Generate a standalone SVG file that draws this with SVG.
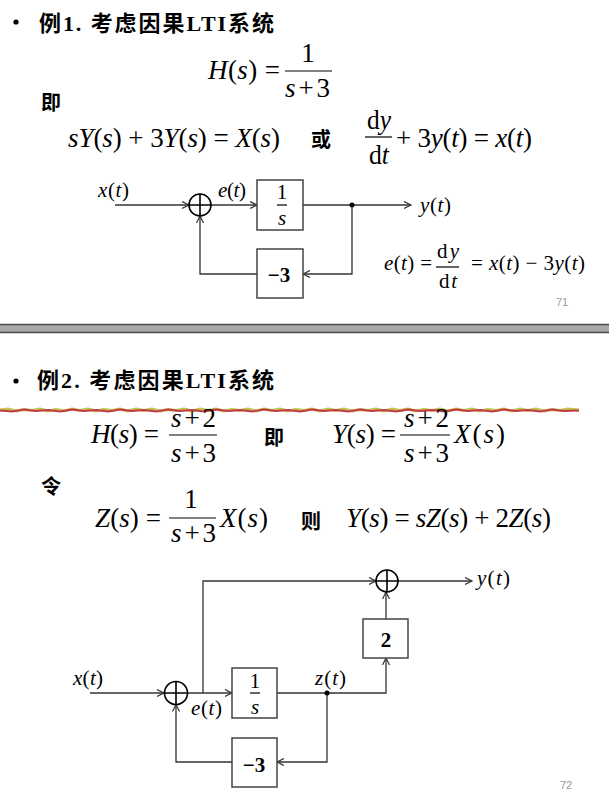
<svg xmlns="http://www.w3.org/2000/svg" width="609" height="807" viewBox="0 0 609 807">
<style>
.m{font-family:"Liberation Serif","Times New Roman",serif;font-size:27px;fill:#000}
.l{font-family:"Liberation Serif","Times New Roman",serif;font-size:21px;fill:#000}
.i{font-style:italic}
.b{font-weight:bold}
.cjk{font-family:"Liberation Serif","Noto Sans CJK SC",sans-serif;font-weight:bold;font-size:22px}
.c{font-family:"Noto Sans CJK SC",sans-serif;font-weight:bold}
.wire{fill:none;stroke:#333;stroke-width:1.3}
.box{fill:#fff;stroke:#444;stroke-width:1.5}
.bar{stroke:#000;stroke-width:1.2}
.sum{fill:#fff;stroke:#000;stroke-width:1.6}
.pn{font-family:"Liberation Sans",Arial,sans-serif;font-size:11px;fill:#999}
</style>
<defs>
<marker id="arr" markerUnits="userSpaceOnUse" markerWidth="10" markerHeight="10" refX="7" refY="4" orient="auto">
<path d="M0,0.5 L7,4 L0,7.5" fill="none" stroke="#333" stroke-width="1.2"/>
</marker>
</defs>
<rect width="609" height="807" fill="#fff"/>

<!-- Slide 1 -->
<g id="title1">
<circle cx="16" cy="22" r="2.6" fill="#000"/>
<text x="39" y="31" class="cjk" textLength="235" lengthAdjust="spacing"><tspan class="c">例</tspan>1. <tspan class="c">考虑因果</tspan>LTI<tspan class="c">系统</tspan></text>
</g>
<g id="eq-H1">
<text x="208" y="79" class="m" textLength="72" lengthAdjust="spacing"><tspan class="i">H</tspan>(<tspan class="i">s</tspan>) =</text>
<line x1="285" y1="71" x2="332" y2="71" class="bar"/>
<text x="308" y="62" class="m" text-anchor="middle">1</text>
<text x="285" y="97" class="m" textLength="45" lengthAdjust="spacing"><tspan class="i">s</tspan>+3</text>
</g>
<text x="41" y="110" class="c" font-size="20">即</text>
<g id="eq-s1">
<text x="68" y="147" class="m" textLength="212" lengthAdjust="spacing"><tspan class="i">sY</tspan>(<tspan class="i">s</tspan>) + 3<tspan class="i">Y</tspan>(<tspan class="i">s</tspan>) = <tspan class="i">X</tspan>(<tspan class="i">s</tspan>)</text>
<text x="311" y="147" class="c" font-size="20">或</text>
<text x="367" y="129" class="m" font-size="25" textLength="24" lengthAdjust="spacingAndGlyphs">d<tspan class="i">y</tspan></text>
<line x1="365" y1="137" x2="392" y2="137" class="bar"/>
<text x="369" y="164" class="m" font-size="25" textLength="20" lengthAdjust="spacingAndGlyphs">d<tspan class="i">t</tspan></text>
<text x="396" y="147" class="m" textLength="136" lengthAdjust="spacing">+ 3<tspan class="i">y</tspan>(<tspan class="i">t</tspan>) = <tspan class="i">x</tspan>(<tspan class="i">t</tspan>)</text>
</g>

<g id="connectors1">
<path class="wire" d="M115,205 H189" marker-end="url(#arr)"/>
<path class="wire" d="M211,205 H257" marker-end="url(#arr)"/>
<path class="wire" d="M303,205 H411" marker-end="url(#arr)"/>
<path class="wire" d="M352,205 V274 H303" marker-end="url(#arr)"/>
<path class="wire" d="M257,274 H200 V216" marker-end="url(#arr)"/>
<circle cx="352" cy="205" r="2.5" fill="#000"/>
</g>
<g id="sum1">
<circle cx="200" cy="205" r="11" class="sum"/>
<path d="M189,205 H211 M200,194 V216" stroke="#000" stroke-width="1.6"/>
</g>
<g id="integ1">
<rect x="257" y="180" width="46" height="50" class="box"/>
<text x="282" y="199" class="l" font-size="19" text-anchor="middle">1</text>
<line x1="277" y1="205" x2="287" y2="205" class="bar" stroke-width="1"/>
<text x="282" y="225" class="l i" font-size="19" text-anchor="middle">s</text>
</g>
<g id="gain1">
<rect x="257" y="249" width="46" height="49" class="box"/>
<text x="279" y="282" class="l b" font-size="23" text-anchor="middle">−3</text>
</g>
<g id="labels1">
<text x="98" y="197" class="l" textLength="31" lengthAdjust="spacing"><tspan class="i">x</tspan>(<tspan class="i">t</tspan>)</text>
<text x="218" y="197" class="l" textLength="28" lengthAdjust="spacing"><tspan class="i">e</tspan>(<tspan class="i">t</tspan>)</text>
<text x="420" y="212" class="l" textLength="31" lengthAdjust="spacing"><tspan class="i">y</tspan>(<tspan class="i">t</tspan>)</text>
</g>
<g id="eq-e1">
<text x="384" y="270" class="l" textLength="48" lengthAdjust="spacing"><tspan class="i">e</tspan>(<tspan class="i">t</tspan>) =</text>
<text x="437" y="258" class="l" textLength="22" lengthAdjust="spacing">d<tspan class="i">y</tspan></text>
<line x1="436" y1="267" x2="459" y2="267" class="bar" stroke-width="1"/>
<text x="439" y="288" class="l" textLength="18" lengthAdjust="spacing">d<tspan class="i">t</tspan></text>
<text x="471" y="270" class="l" textLength="114" lengthAdjust="spacing">= <tspan class="i">x</tspan>(<tspan class="i">t</tspan>) − 3<tspan class="i">y</tspan>(<tspan class="i">t</tspan>)</text>
</g>
<text x="556" y="306" class="pn">71</text>

<!-- separator -->
<g id="separator">
<rect x="0" y="324" width="609" height="9" fill="#a8a8a8"/>
<line x1="0" y1="324.5" x2="609" y2="324.5" stroke="#4a4a4a" stroke-width="1.5"/>
<line x1="0" y1="332.5" x2="609" y2="332.5" stroke="#4a4a4a" stroke-width="1.5"/>
</g>

<!-- Slide 2 -->
<g id="title2">
<circle cx="16" cy="381" r="2.6" fill="#000"/>
<text x="37" y="388" class="cjk" textLength="237" lengthAdjust="spacing"><tspan class="c">例</tspan>2. <tspan class="c">考虑因果</tspan>LTI<tspan class="c">系统</tspan></text>
</g>
<g id="deco">
<path d="M0,410 L8,409 L16,411 L24,409.5 L32,410.5 L40,409 L48,411 L56,409.5 L64,411 L72,409 L80,410.5 L88,409 L96,411 L104,409.5 L112,410.5 L120,409 L128,411 L136,409 L144,410.5 L152,409 L160,411 L168,409.5 L176,410.5 L184,409 L192,411 L200,409 L208,410.5 L216,409 L224,411 L232,409.5 L240,410.5 L248,409 L256,411 L264,409 L272,410.5 L280,409 L288,411 L296,409.5 L304,410.5 L312,409 L320,411 L328,409 L336,410.5 L344,409 L352,411 L360,409.5 L368,410.5 L376,409 L384,411 L392,409 L400,410.5 L408,409 L416,411 L424,409.5 L432,410.5 L440,409 L448,411 L456,409 L464,410.5 L472,409 L480,411 L488,409.5 L496,410.5 L504,409 L512,411 L520,409 L528,410.5 L536,409 L544,411 L552,409.5 L560,410.5 L568,409 L579,410" fill="none" stroke="#c4c24a" stroke-width="3"/>
<path d="M0,410.5 L12,411.5 L24,409.5 L36,411 L48,410 L60,411.5 L72,409.5 L84,411 L96,410 L108,411.5 L120,409.5 L132,411 L144,410 L156,411.5 L168,409.5 L180,411 L192,410 L204,411.5 L216,409.5 L228,411 L240,410 L252,411.5 L264,409.5 L276,411 L288,410 L300,411.5 L312,409.5 L324,411 L336,410 L348,411.5 L360,409.5 L372,411 L384,410 L396,411.5 L408,409.5 L420,411 L432,410 L444,411.5 L456,409.5 L468,411 L480,410 L492,411.5 L504,409.5 L516,411 L528,410 L540,411.5 L552,409.5 L564,411 L579,410.5" fill="none" stroke="#c03a4a" stroke-width="1.8"/>
</g>
<g id="eq-H2">
<text x="91" y="443" class="m" textLength="68" lengthAdjust="spacing"><tspan class="i">H</tspan>(<tspan class="i">s</tspan>) =</text>
<line x1="169" y1="435" x2="217" y2="435" class="bar"/>
<text x="171" y="427" class="m" textLength="45" lengthAdjust="spacing"><tspan class="i">s</tspan>+2</text>
<text x="171" y="462" class="m" textLength="45" lengthAdjust="spacing"><tspan class="i">s</tspan>+3</text>
<text x="264" y="445" class="c" font-size="20">即</text>
<text x="332" y="443" class="m" textLength="64" lengthAdjust="spacing"><tspan class="i">Y</tspan>(<tspan class="i">s</tspan>) =</text>
<line x1="400" y1="435" x2="450" y2="435" class="bar"/>
<text x="404" y="427" class="m" textLength="45" lengthAdjust="spacing"><tspan class="i">s</tspan>+2</text>
<text x="404" y="462" class="m" textLength="45" lengthAdjust="spacing"><tspan class="i">s</tspan>+3</text>
<text x="454" y="443" class="m" textLength="51" lengthAdjust="spacing"><tspan class="i">X</tspan>(<tspan class="i">s</tspan>)</text>
</g>
<text x="41" y="494" class="c" font-size="20">令</text>
<g id="eq-Z">
<text x="95" y="527" class="m" textLength="66" lengthAdjust="spacing"><tspan class="i">Z</tspan>(<tspan class="i">s</tspan>) =</text>
<line x1="169" y1="518" x2="216" y2="518" class="bar"/>
<text x="191" y="508" class="m" text-anchor="middle">1</text>
<text x="171" y="542" class="m" textLength="45" lengthAdjust="spacing"><tspan class="i">s</tspan>+3</text>
<text x="220" y="527" class="m" textLength="48" lengthAdjust="spacing"><tspan class="i">X</tspan>(<tspan class="i">s</tspan>)</text>
<text x="301" y="529" class="c" font-size="20">则</text>
<text x="346" y="527" class="m" textLength="205" lengthAdjust="spacing"><tspan class="i">Y</tspan>(<tspan class="i">s</tspan>) = <tspan class="i">sZ</tspan>(<tspan class="i">s</tspan>) + 2<tspan class="i">Z</tspan>(<tspan class="i">s</tspan>)</text>
</g>

<g id="connectors2">
<path class="wire" d="M90,693 H164" marker-end="url(#arr)"/>
<path class="wire" d="M187,693 H232" marker-end="url(#arr)"/>
<path class="wire" d="M203,693 V581 H376" marker-end="url(#arr)"/>
<path class="wire" d="M398,581 H472" marker-end="url(#arr)"/>
<path class="wire" d="M277,693 H386 V658" marker-end="url(#arr)"/>
<path class="wire" d="M386,619 V592" marker-end="url(#arr)"/>
<path class="wire" d="M327,693 V762 H277" marker-end="url(#arr)"/>
<path class="wire" d="M232,762 H176 V704.5" marker-end="url(#arr)"/>
<circle cx="327" cy="693" r="2.5" fill="#000"/>
</g>
<g id="sum2a">
<circle cx="176" cy="693" r="11.5" class="sum"/>
<path d="M164.5,693 H187.5 M176,681.5 V704.5" stroke="#000" stroke-width="1.6"/>
</g>
<g id="sum2b">
<circle cx="387" cy="581" r="11" class="sum"/>
<path d="M376,581 H398 M387,570 V592" stroke="#000" stroke-width="1.6"/>
</g>
<g id="integ2">
<rect x="232" y="668" width="45" height="50" class="box"/>
<text x="255" y="688" class="l" font-size="19" text-anchor="middle">1</text>
<line x1="250" y1="693" x2="260" y2="693" class="bar" stroke-width="1"/>
<text x="255" y="714" class="l i" font-size="19" text-anchor="middle">s</text>
</g>
<g id="gain3">
<rect x="232" y="738" width="45" height="49" class="box"/>
<text x="254" y="772" class="l b" font-size="23" text-anchor="middle">−3</text>
</g>
<g id="gain2">
<rect x="363" y="619" width="45" height="39" class="box"/>
<text x="386" y="647" class="l b" font-size="20" text-anchor="middle">2</text>
</g>
<g id="labels2">
<text x="73" y="685" class="l" textLength="30" lengthAdjust="spacing"><tspan class="i">x</tspan>(<tspan class="i">t</tspan>)</text>
<text x="191" y="715" class="l" textLength="31" lengthAdjust="spacing"><tspan class="i">e</tspan>(<tspan class="i">t</tspan>)</text>
<text x="315" y="685" class="l" textLength="31" lengthAdjust="spacing"><tspan class="i">z</tspan>(<tspan class="i">t</tspan>)</text>
<text x="477" y="585" class="l" textLength="33" lengthAdjust="spacing"><tspan class="i">y</tspan>(<tspan class="i">t</tspan>)</text>
</g>
<text x="560" y="789" class="pn">72</text>
</svg>
